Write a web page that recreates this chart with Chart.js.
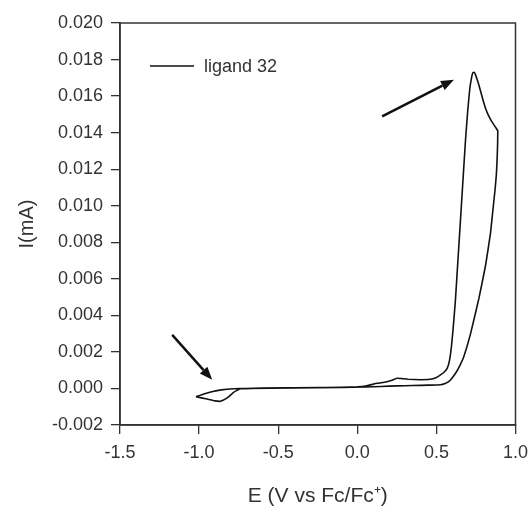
<!DOCTYPE html>
<html>
<head>
<meta charset="utf-8">
<script src="https://cdn.jsdelivr.net/npm/chart.js@4.4.0/dist/chart.umd.min.js"></script>
<style>
html, body { margin: 0; padding: 0; background: #fff; }
#wrap { width: 531px; height: 513px; }
</style>
</head>
<body>
<div id="wrap"><canvas id="cv"></canvas></div>
<script>
// cyclic voltammogram
var seriesLabel = "ligand 32";

// anodic (forward) sweep
var forwardE = [-1.02, -0.97, -0.92, -0.86, -0.78, -0.70, -0.40, -0.10, 0.00, 0.06, 0.126, 0.18, 0.22, 0.25, 0.28, 0.32, 0.40, 0.46, 0.50, 0.526, 0.55, 0.568, 0.582, 0.594, 0.606, 0.62, 0.636, 0.652, 0.668, 0.684, 0.698, 0.711, 0.722, 0.73, 0.737, 0.745, 0.755, 0.768, 0.782, 0.796, 0.81, 0.826, 0.844, 0.862, 0.878, 0.888];
var forwardI = [-0.00045, -0.0003, -0.00018, -0.00008, -0.00002, 0.0, 0.00003, 0.00006, 0.00009, 0.00015, 0.00028, 0.00035, 0.00045, 0.00056, 0.00054, 0.0005, 0.00048, 0.0005, 0.0006, 0.00074, 0.0009, 0.0011, 0.0015, 0.0022, 0.0033, 0.0048, 0.007, 0.0092, 0.0114, 0.0136, 0.0152, 0.0164, 0.0170, 0.01728, 0.0173, 0.01722, 0.01698, 0.01662, 0.01618, 0.01575, 0.01535, 0.015, 0.0147, 0.01445, 0.01424, 0.0141];

// cathodic (reverse) sweep
var reverseE = [0.888, 0.887, 0.884, 0.879, 0.871, 0.860, 0.842, 0.81, 0.768, 0.716, 0.673, 0.645, 0.621, 0.597, 0.577, 0.555, 0.526, 0.45, 0.35, 0.25, 0.15, 0.05, -0.10, -0.30, -0.60, -0.74, -0.78, -0.82, -0.865, -0.90, -0.95, -1.02];
var reverseI = [0.0141, 0.0134, 0.0126, 0.0117, 0.0109, 0.0100, 0.0085, 0.0067, 0.0049, 0.0030, 0.00174, 0.0012, 0.00083, 0.00055, 0.00037, 0.00027, 0.0002, 0.00018, 0.00016, 0.00014, 0.00011, 0.00008, 0.00006, 0.00004, 0.00002, -0.00002, -0.0002, -0.0005, -0.0007, -0.00068, -0.00058, -0.00045];

var xTicks = [-1.5, -1.0, -0.5, 0.0, 0.5, 1.0];
var yTicks = [-0.002, 0.000, 0.002, 0.004, 0.006, 0.008, 0.010, 0.012, 0.014, 0.016, 0.018, 0.020];

// arrow annotations, tail -> tip, in data units
var arrowTails = [[0.157, 0.01489], [-1.17, 0.00293]];
var arrowTips = [[0.611, 0.0169], [-0.917, 0.00047]];

var points = [];
forwardE.forEach(function (e, i) { points.push({ x: e, y: forwardI[i] }); });
reverseE.forEach(function (e, i) { points.push({ x: e, y: reverseI[i] }); });

var fontFam = "'Liberation Sans', Arial, sans-serif";
var ink = "#333";

var extras = {
    id: "extras",
    afterDraw: function (chart) {
        var ctx = chart.ctx, ca = chart.chartArea;
        var xs = chart.scales.x, ys = chart.scales.y;
        ctx.save();
        // box round the plot
        ctx.strokeStyle = ink;
        ctx.lineWidth = 1.5;
        ctx.strokeRect(ca.left, ca.top, ca.right - ca.left, ca.bottom - ca.top);

        // legend inside the plot
        var ds = chart.data.datasets[0];
        var ly = ca.top + 43;
        ctx.strokeStyle = ds.borderColor;
        ctx.lineWidth = 1.5;
        ctx.beginPath();
        ctx.moveTo(ca.left + 30, ly);
        ctx.lineTo(ca.left + 74, ly);
        ctx.stroke();
        ctx.fillStyle = ink;
        ctx.font = "18px " + fontFam;
        ctx.textBaseline = "middle";
        ctx.fillText(ds.label, ca.left + 84, ly + 1);

        // arrows
        ctx.strokeStyle = "#111";
        ctx.fillStyle = "#111";
        ctx.lineWidth = 2.5;
        for (var i = 0; i < arrowTails.length; i++) {
            var x0 = xs.getPixelForValue(arrowTails[i][0]), y0 = ys.getPixelForValue(arrowTails[i][1]);
            var x1 = xs.getPixelForValue(arrowTips[i][0]), y1 = ys.getPixelForValue(arrowTips[i][1]);
            var a = Math.atan2(y1 - y0, x1 - x0);
            var hl = 13, hw = 5;
            var bx = x1 - hl * Math.cos(a), by = y1 - hl * Math.sin(a);
            ctx.beginPath();
            ctx.moveTo(x0, y0);
            ctx.lineTo(bx, by);
            ctx.stroke();
            ctx.beginPath();
            ctx.moveTo(x1, y1);
            ctx.lineTo(bx + hw * Math.sin(a), by - hw * Math.cos(a));
            ctx.lineTo(bx - hw * Math.sin(a), by + hw * Math.cos(a));
            ctx.closePath();
            ctx.fill();
        }
        ctx.restore();
    }
};

var ctx = document.getElementById("cv");
var chartGraph = new Chart(ctx, {
    type: "scatter",
    data: {
        datasets: [{
            label: seriesLabel,
            data: points,
            showLine: true,
            borderColor: "#111",
            borderWidth: 1.6,
            pointRadius: 0,
            tension: 0.1,
            fill: false
        }]
    },
    options: {
        responsive: true,
        maintainAspectRatio: false,
        animation: false,
        layout: { padding: { top: 23, right: 15.5, left: 0, bottom: 0 } },
        plugins: { legend: { display: false }, tooltip: { enabled: false } },
        scales: {
            x: {
                type: "linear",
                min: -1.5,
                max: 1.0,
                afterBuildTicks: function (s) { s.ticks = xTicks.map(function (v) { return { value: v }; }); },
                afterFit: function (s) { s.height = 88; s.paddingLeft = 0; s.paddingRight = 0; },
                ticks: {
                    color: ink,
                    padding: 8,
                    font: { size: 18, family: fontFam },
                    callback: function (v) { return v.toFixed(1); }
                },
                grid: { drawOnChartArea: false, drawTicks: true, tickLength: 9, color: ink, lineWidth: 1.3 },
                border: { display: true, color: ink, width: 1.5 },
                title: {
                    display: true,
                    text: "E (V vs Fc/Fc\u207A)",
                    color: ink,
                    font: { size: 21, family: fontFam },
                    padding: { top: 0, bottom: 4 }
                }
            },
            y: {
                type: "linear",
                min: -0.002,
                max: 0.020,
                afterBuildTicks: function (s) { s.ticks = yTicks.map(function (v) { return { value: v }; }); },
                afterFit: function (s) { s.width = 120; s.paddingTop = 0; s.paddingBottom = 0; },
                ticks: {
                    color: ink,
                    padding: 8,
                    font: { size: 18, family: fontFam },
                    callback: function (v) { return v.toFixed(3); }
                },
                grid: { drawOnChartArea: false, drawTicks: true, tickLength: 9, color: ink, lineWidth: 1.3 },
                border: { display: true, color: ink, width: 1.5 },
                title: {
                    display: true,
                    text: "I(mA)",
                    color: ink,
                    font: { size: 20, family: fontFam },
                    padding: { top: 15, bottom: 0 }
                }
            }
        }
    },
    plugins: [extras]
});
</script>
</body>
</html>
